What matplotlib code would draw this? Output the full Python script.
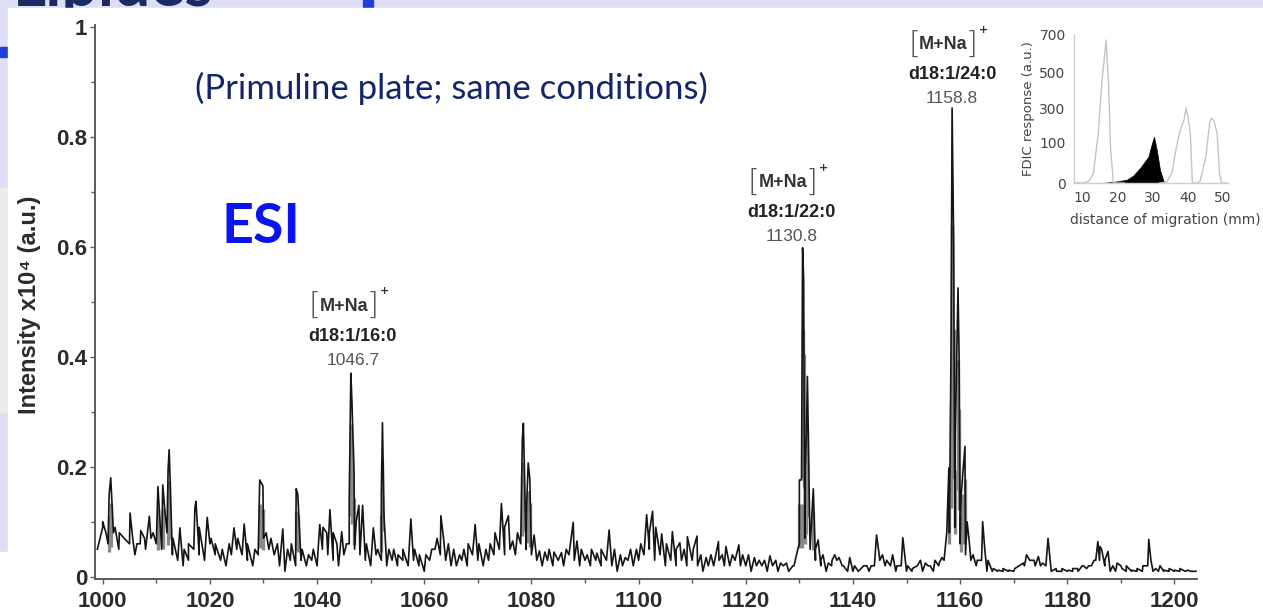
import matplotlib
matplotlib.use("Agg")
import matplotlib.pyplot as plt
from matplotlib.patches import Rectangle
import numpy as np

# ---- main spectrum data (m/z, intensity x10^4) ----
base_mz = np.arange(999, 1205)
base_int = [0.05,
    0.09, 0.06, 0.08, 0.05, 0.07, 0.06, 0.04, 0.06, 0.05, 0.07,
    0.06, 0.05, 0.08, 0.04, 0.03, 0.02, 0.03, 0.05, 0.04, 0.03,
    0.06, 0.04, 0.03, 0.02, 0.04, 0.05, 0.04, 0.03, 0.02, 0.04,
    0.07, 0.05, 0.04, 0.02, 0.01, 0.03, 0.02, 0.03, 0.02, 0.03,
    0.02, 0.05, 0.04, 0.03, 0.02, 0.04, 0.06, 0.05, 0.04, 0.03,
    0.02, 0.04, 0.03, 0.02, 0.03, 0.02, 0.03, 0.02, 0.03, 0.02,
    0.01, 0.03, 0.05, 0.04, 0.03, 0.02, 0.02, 0.03, 0.02, 0.04,
    0.03, 0.02, 0.03, 0.04, 0.05, 0.04, 0.05, 0.04, 0.06, 0.05,
    0.04, 0.03, 0.02, 0.03, 0.02, 0.03, 0.02, 0.04, 0.03, 0.02,
    0.03, 0.02, 0.03, 0.02, 0.03, 0.02, 0.01, 0.02, 0.03, 0.02,
    0.03, 0.04, 0.05, 0.03, 0.04, 0.02, 0.03, 0.02, 0.03, 0.02,
    0.03, 0.02, 0.01, 0.02, 0.02, 0.03, 0.02, 0.02, 0.03, 0.02,
    0.02, 0.01, 0.02, 0.02, 0.01, 0.02, 0.01, 0.02, 0.01, 0.02,
    0.06, 0.07, 0.05, 0.03, 0.02, 0.01, 0.02, 0.03, 0.02, 0.01,
    0.01, 0.01, 0.02, 0.01, 0.02, 0.03, 0.02, 0.02, 0.01, 0.02,
    0.01, 0.01, 0.02, 0.01, 0.02, 0.01, 0.02, 0.03, 0.08, 0.09,
    0.06, 0.04, 0.03, 0.02, 0.03, 0.01, 0.01, 0.01, 0.01, 0.01,
    0.01, 0.02, 0.02, 0.03, 0.02, 0.02, 0.02, 0.01, 0.01, 0.01,
    0.01, 0.01, 0.01, 0.02, 0.02, 0.03, 0.03, 0.02, 0.01, 0.01,
    0.02, 0.01, 0.01, 0.01, 0.01, 0.02, 0.01, 0.01, 0.01, 0.01,
    0.01, 0.01, 0.01, 0.01, 0.01]

peak_mz = [1000.0, 1000.6, 1001.2, 1001.5, 1002.3, 1003.1, 1004.0, 1005.1, 1005.6, 1006.4,
    1007.1, 1007.8, 1008.7, 1009.4, 1010.3, 1010.7, 1011.2, 1011.6, 1012.2, 1012.4,
    1013.1, 1014.4, 1015.2, 1016.0, 1017.2, 1017.4, 1018.0, 1019.5, 1020.2, 1021.0,
    1022.3, 1023.6, 1024.5, 1025.2, 1026.4, 1027.0, 1028.4, 1029.3, 1029.9, 1030.5,
    1031.4, 1032.6, 1033.6, 1034.5, 1035.2, 1036.1, 1036.4, 1037.2, 1038.4, 1039.3,
    1040.5, 1041.1, 1041.8, 1042.4, 1043.0, 1043.7, 1044.6, 1045.5, 1046.0, 1046.3,
    1046.5, 1046.9, 1047.3, 1047.8, 1048.5, 1049.2, 1050.5, 1051.3, 1052.0, 1052.2,
    1052.5, 1053.4, 1054.3, 1055.1, 1056.0, 1057.5, 1058.2, 1059.1, 1060.3, 1061.4,
    1062.4, 1063.1, 1063.6, 1064.5, 1065.5, 1066.6, 1067.4, 1068.2, 1069.5, 1070.2,
    1071.5, 1072.3, 1073.2, 1074.4, 1075.0, 1075.7, 1076.5, 1077.4, 1078.1, 1078.3,
    1078.5, 1079.1, 1079.4, 1079.7, 1080.5, 1081.5, 1082.5, 1083.3, 1084.2, 1085.6,
    1086.5, 1087.8, 1088.5, 1089.3, 1090.4, 1091.2, 1092.2, 1093.0, 1094.5, 1095.5,
    1096.6, 1097.5, 1098.5, 1099.6, 1100.4, 1101.5, 1102.0, 1102.6, 1103.2, 1104.3,
    1105.2, 1106.3, 1107.0, 1107.7, 1108.5, 1109.1, 1110.2, 1110.9, 1111.6, 1112.6,
    1113.5, 1114.9, 1115.6, 1116.3, 1117.5, 1118.7, 1119.4, 1120.5, 1121.6, 1122.5,
    1123.5, 1124.5, 1125.6, 1126.5, 1127.6, 1128.8, 1129.7, 1130.0, 1130.4, 1130.6,
    1130.8, 1131.1, 1131.3, 1131.5, 1131.9, 1132.6, 1133.0, 1133.5, 1134.0, 1134.4,
    1135.4, 1136.1, 1136.6, 1137.4, 1138.2, 1139.4, 1140.3, 1141.5, 1142.6, 1143.4,
    1144.4, 1144.9, 1145.5, 1146.3, 1147.4, 1148.2, 1149.3, 1150.2, 1151.1, 1152.0,
    1152.6, 1153.5, 1154.4, 1155.3, 1156.1, 1156.6, 1157.5, 1157.9, 1158.3, 1158.5,
    1158.8, 1159.1, 1159.6, 1159.8, 1160.2, 1160.6, 1160.9, 1161.3, 1161.7, 1162.4,
    1163.2, 1164.2, 1164.6, 1165.2, 1166.2, 1167.1, 1168.0, 1169.0, 1170.2, 1171.0,
    1171.8, 1172.4, 1173.2, 1173.8, 1174.6, 1175.4, 1176.4, 1176.8, 1177.9, 1179.0,
    1180.2, 1181.0, 1181.9, 1182.8, 1183.6, 1184.5, 1185.3, 1185.7, 1186.1, 1186.4,
    1187.0, 1187.6, 1188.5, 1189.3, 1190.2, 1191.0, 1192.0, 1193.0, 1194.1, 1195.2,
    1195.6, 1196.5, 1197.3, 1198.0, 1199.0, 1200.0, 1201.0, 1201.6, 1202.5, 1203.4]
peak_int = [0.10, 0.08, 0.15, 0.18, 0.09, 0.08, 0.07, 0.116, 0.07, 0.06,
    0.084, 0.07, 0.11, 0.08, 0.164, 0.10, 0.167, 0.12, 0.195, 0.231,
    0.07, 0.089, 0.05, 0.06, 0.125, 0.137, 0.09, 0.108, 0.07, 0.06,
    0.05, 0.06, 0.089, 0.07, 0.096, 0.06, 0.05, 0.176, 0.165, 0.08,
    0.07, 0.06, 0.087, 0.05, 0.06, 0.16, 0.15, 0.05, 0.04, 0.05,
    0.095, 0.09, 0.08, 0.122, 0.08, 0.06, 0.082, 0.06, 0.14, 0.37,
    0.32, 0.19, 0.10, 0.13, 0.13, 0.06, 0.089, 0.05, 0.15, 0.28,
    0.11, 0.05, 0.05, 0.04, 0.05, 0.105, 0.05, 0.04, 0.04, 0.05,
    0.07, 0.111, 0.07, 0.06, 0.05, 0.04, 0.05, 0.06, 0.095, 0.06,
    0.05, 0.06, 0.08, 0.133, 0.09, 0.111, 0.065, 0.08, 0.12, 0.25,
    0.279, 0.13, 0.207, 0.178, 0.076, 0.047, 0.045, 0.05, 0.045, 0.044,
    0.05, 0.099, 0.065, 0.05, 0.04, 0.05, 0.043, 0.05, 0.085, 0.05,
    0.04, 0.035, 0.05, 0.05, 0.06, 0.113, 0.08, 0.119, 0.09, 0.078,
    0.06, 0.082, 0.05, 0.062, 0.05, 0.073, 0.05, 0.074, 0.04, 0.035,
    0.04, 0.064, 0.04, 0.055, 0.04, 0.058, 0.04, 0.04, 0.035, 0.03,
    0.03, 0.038, 0.03, 0.025, 0.025, 0.02, 0.05, 0.176, 0.176, 0.598,
    0.54, 0.20, 0.257, 0.364, 0.12, 0.16, 0.05, 0.067, 0.03, 0.04,
    0.025, 0.03, 0.04, 0.035, 0.02, 0.035, 0.02, 0.015, 0.02, 0.02,
    0.076, 0.04, 0.04, 0.03, 0.04, 0.02, 0.071, 0.02, 0.015, 0.02,
    0.03, 0.025, 0.02, 0.03, 0.025, 0.035, 0.08, 0.198, 0.416, 0.852,
    0.60, 0.26, 0.525, 0.407, 0.15, 0.20, 0.237, 0.10, 0.064, 0.04,
    0.03, 0.10, 0.05, 0.03, 0.015, 0.012, 0.015, 0.012, 0.015, 0.02,
    0.025, 0.04, 0.03, 0.03, 0.037, 0.025, 0.07, 0.03, 0.015, 0.015,
    0.012, 0.015, 0.015, 0.02, 0.015, 0.02, 0.03, 0.064, 0.055, 0.05,
    0.03, 0.046, 0.02, 0.025, 0.015, 0.02, 0.012, 0.015, 0.02, 0.068,
    0.03, 0.015, 0.02, 0.012, 0.015, 0.012, 0.015, 0.012, 0.012, 0.01]

# labelled species
ion_x = [1045.0, 1126.9, 1156.8]
ion_y = [0.492, 0.716, 0.967]
ion_lipid = ["d18:1/16:0", "d18:1/22:0", "d18:1/24:0"]
ion_mass = ["1046.7", "1130.8", "1158.8"]

# ---- inset (FDIC densitogram) ----
fdic_ticks = [0, 100, 300, 500, 700]
fdic_px = [0, 41, 75, 110, 148]   # spacing of the printed axis
trace1_mm = [7.7, 10.3, 12.0, 13.2, 14.6, 15.6, 16.8, 17.5, 18.1, 18.9, 20.0, 22.0]
trace1_val = [0, 0, 5, 24, 153, 443, 674, 443, 80, 0, 0, 0]
black_mm = [15.7, 18.0, 20.0, 22.7, 24.5, 26.5, 28.8, 29.6, 30.4, 31.2, 32.1, 33.3]
black_val = [0, 2, 4, 8, 18, 37, 64, 90, 131, 80, 32, 0]
trace3_mm = [32.0, 34.0, 35.5, 36.6, 37.7, 38.9, 39.5, 40.0, 40.7, 41.3, 42.5]
trace3_val = [0, 2, 25, 80, 160, 229, 300, 250, 153, 0, 0]
trace4_mm = [42.5, 43.5, 44.2, 45.1, 46.2, 46.7, 47.4, 48.3, 49.0, 49.6, 51.4]
trace4_val = [0, 5, 30, 63, 212, 241, 225, 153, 24, 0, 0]

W, H = 1263, 612
fig = plt.figure(figsize=(W / 100, H / 100), dpi=100)
fig.patch.set_facecolor('#dedff7')

# slide remnants around the screenshot
fig.text(13 / W, 1 - 6 / H, "Lipides", fontsize=46, color='#1b2a62', family='Lato',
         fontweight='bold', va='baseline', ha='left', zorder=1)
fig.patches.append(Rectangle((0, 1 - 57 / H), 8 / W, 10 / H, transform=fig.transFigure,
                             color='#1f3ed6', zorder=1))
fig.patches.append(Rectangle((363 / W, 1 - 8 / H), 10 / W, 8 / H, transform=fig.transFigure,
                             color='#1f3ed6', zorder=1))
fig.patches.append(Rectangle((0, 1 - 412 / H), 8 / W, 224 / H, transform=fig.transFigure,
                             color='#ececec', zorder=1))
fig.patches.append(Rectangle((8 / W, 0), 1 - 8 / W, 1 - 8 / H, transform=fig.transFigure,
                             color='white', zorder=2))
fig.patches.append(Rectangle((0, 0), 8 / W, 60 / H, transform=fig.transFigure,
                             color='white', zorder=2))

# ---- main spectrum ----
ax = fig.add_axes([95 / W, 1 - 579 / H, (1197 - 95) / W, (579 - 25) / H])
ax.set_zorder(3)
ax.patch.set_alpha(0)

mz_all = np.concatenate([base_mz, peak_mz])
int_all = np.concatenate([base_int, peak_int])
order = np.argsort(mz_all, kind='stable')
pk_mz = np.array(peak_mz)
pk_int = np.array(peak_int)
big = pk_int >= 0.15
# grey body of the stronger peaks
ax.vlines(pk_mz[big], pk_int[big] * 0.3, pk_int[big] * 0.75,
          color='#8a8a8a', linewidth=2.4, zorder=1)
ax.plot(mz_all[order], int_all[order], color='#151515', linewidth=1.2, zorder=2)

ax.set_xlim(998.56, 1204.2)
ax.set_ylim(-0.004, 1.003)
ax.set_xticks(np.arange(1000, 1201, 20))
ax.set_xticks(np.arange(1010, 1201, 20), minor=True)
ax.set_yticks([0, 0.2, 0.4, 0.6, 0.8, 1])
ax.set_yticklabels(['0', '0.2', '0.4', '0.6', '0.8', '1'])
ax.set_yticks([0.1, 0.3, 0.5, 0.7, 0.9], minor=True)
for s in ['top', 'right']:
    ax.spines[s].set_visible(False)
for s in ['left', 'bottom']:
    ax.spines[s].set_color('#5a5a5a')
    ax.spines[s].set_linewidth(1.4)
ax.tick_params(which='both', direction='out', color='#5a5a5a', width=1.0)
ax.tick_params(which='major', length=3.5)
ax.tick_params(which='minor', length=3)
ax.tick_params(axis='x', pad=5)
ax.tick_params(axis='y', pad=2)
for lab in ax.get_xticklabels() + ax.get_yticklabels():
    lab.set_family('Liberation Sans')
    lab.set_fontweight('bold')
    lab.set_fontsize(16)
    lab.set_color('#2b2b2b')

fig.text(30 / W, 1 - 305 / H, "Intensity x10⁴ (a.u.)", rotation=90, ha='center', va='center',
         fontsize=17, fontweight='bold', color='#2b2b2b',
         family=['Liberation Sans', 'DejaVu Sans'], zorder=4)

# ion labels above the three major peaks
for x, y, lipid, mass in zip(ion_x, ion_y, ion_lipid, ion_mass):
    ax.annotate("M+Na", (x, y), ha='center', va='center', fontsize=13, fontweight='bold',
                color='#333333', family='Liberation Sans')
    ax.annotate("[", (x, y), xytext=(-29, 1), textcoords='offset pixels', ha='center',
                va='center', fontsize=22, color='#555555', family='DejaVu Sans',
                fontweight='light')
    ax.annotate("]", (x, y), xytext=(29, 1), textcoords='offset pixels', ha='center',
                va='center', fontsize=22, color='#555555', family='DejaVu Sans',
                fontweight='light')
    ax.annotate("+", (x, y), xytext=(41, 15), textcoords='offset pixels', ha='center',
                va='center', fontsize=8, fontweight='bold', color='#333333')
    ax.annotate(lipid, (x, y), xytext=(9, -30), textcoords='offset pixels', ha='center',
                va='center', fontsize=13, fontweight='bold', color='#222222',
                family='Liberation Sans')
    ax.annotate(mass, (x, y), xytext=(9, -54), textcoords='offset pixels', ha='center',
                va='center', fontsize=12.5, color='#555555', family='Liberation Sans')

fig.text(451 / W, 1 - 88 / H, "(Primuline plate; same conditions)", ha='center', va='center',
         fontsize=25, color='#14266a', family='Lato', zorder=4)
fig.text(261 / W, 1 - 227 / H, "ESI", ha='center', va='center', fontsize=40,
         fontweight='bold', color='#0a14f0', family='Lato', zorder=4)

# ---- inset ----
def fwd(v):
    return np.interp(v, fdic_ticks, fdic_px)

def inv(p):
    return np.interp(p, fdic_px, fdic_ticks)

ins = fig.add_axes([1074 / W, 1 - 183 / H, (1228 - 1074) / W, 148 / H])
ins.set_zorder(4)
ins.patch.set_alpha(0)
ins.set_yscale('function', functions=(fwd, inv))
ins.plot(trace1_mm, trace1_val, color='#c4c4c4', linewidth=1.0)
ins.plot(trace3_mm, trace3_val, color='#c4c4c4', linewidth=1.0)
ins.plot(trace4_mm, trace4_val, color='#c4c4c4', linewidth=1.0)
ins.fill_between(black_mm, 0, black_val, color='black', linewidth=0.5)
ins.set_xlim(7.7, 51.4)
ins.set_ylim(0, 700)
ins.set_xticks([10, 20, 30, 40, 50])
ins.set_yticks(fdic_ticks)
ins.minorticks_off()
for s in ['top', 'right']:
    ins.spines[s].set_visible(False)
for s in ['left', 'bottom']:
    ins.spines[s].set_color('#cfcfcf')
    ins.spines[s].set_linewidth(1.0)
ins.tick_params(length=0, labelsize=10, labelcolor='#444444', pad=6)
ins.set_xlabel("distance of migration (mm)", fontsize=10, color='#444444')
ins.xaxis.set_label_coords(0.59, -0.2)
ins.set_ylabel("FDIC response (a.u.)", fontsize=9.5, color='#444444', labelpad=3)

fig.savefig("out.png", dpi=100, facecolor=fig.get_facecolor())
